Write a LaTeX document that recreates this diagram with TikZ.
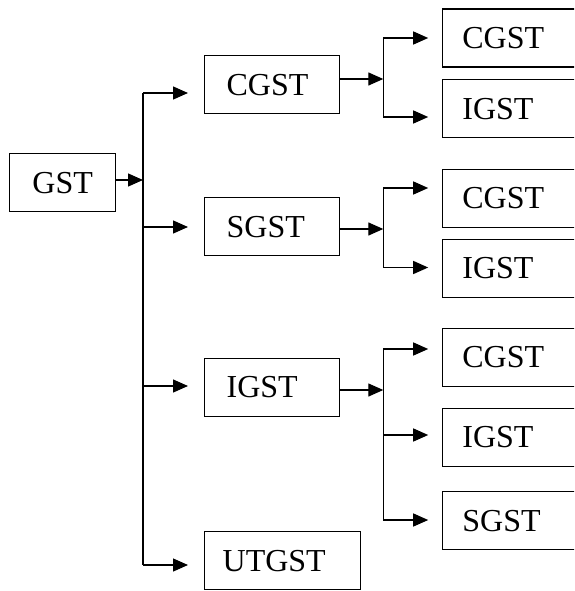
\documentclass[tikz,border=0pt]{standalone}
\usepackage{fontspec}
\setmainfont{Liberation Serif}
\usetikzlibrary{arrows.meta}
\begin{document}
\begin{tikzpicture}[x=1pt,y=-1pt,
  line width=1.3pt,
  box/.style={draw, rectangle, inner ysep=0pt, minimum height=58pt,
    text height=21.5pt, text depth=0pt, font=\fontsize{32}{38}\selectfont},
  rootbox/.style={box, anchor=north west, minimum width=106pt, inner xsep=0pt},
  midbox/.style={box, anchor=north west, inner xsep=22pt, text width=91pt, align=left},
  widebox/.style={box, anchor=north west, inner xsep=18pt, text width=120pt, align=left},
  leafbox/.style={box, anchor=north west, inner xsep=20pt, text width=140pt, align=left},
  arr/.style={-{Triangle[length=15pt,width=13pt]}},
  toleaf/.style={arr, shorten >=13.5pt},
  tomid/.style={arr, shorten >=16pt}]
\useasboundingbox (0,0) rectangle (574,591);
\clip (0,0) rectangle (574,591);

% root
\node[rootbox] (gst) at (9,153) {GST};

% second level
\node[midbox] (cgst) at (204,55) {CGST};
\node[midbox] (sgst) at (204,197) {SGST};
\node[midbox] (igst) at (204,357.5) {IGST};
\node[widebox] (utgst) at (204,531) {UTGST};

% third level
\node[leafbox] (c1) at (441.7,8.5) {CGST};
\node[leafbox] (i1) at (441.7,79) {IGST};
\node[leafbox] (c2) at (441.7,168.5) {CGST};
\node[leafbox] (i2) at (441.7,238.5) {IGST};
\node[leafbox] (c3) at (441.7,327.5) {CGST};
\node[leafbox] (i3) at (441.7,407.5) {IGST};
\node[leafbox] (s3) at (441.7,491) {SGST};

% trunk from the root
\coordinate (j0) at (143,180);
\coordinate (t1) at (143,93);
\coordinate (t2) at (143,227);
\coordinate (t3) at (143,386);
\coordinate (t4) at (143,565);
\draw[arr] (gst.east |- j0) -- (j0);
\draw (t1) -- (t4);
\draw[tomid] (t1) -- (t1 -| cgst.west);
\draw[tomid] (t2) -- (t2 -| sgst.west);
\draw[tomid] (t3) -- (t3 -| igst.west);
\draw[tomid] (t4) -- (t4 -| utgst.west);

% CGST branch
\coordinate (b1) at (383.3,79);
\coordinate (b1a) at (383.3,38);
\coordinate (b1b) at (383.3,117);
\draw[arr] (cgst.east |- b1) -- (b1);
\draw (b1a) -- (b1b);
\draw[toleaf] (b1a) -- (b1a -| c1.west);
\draw[toleaf] (b1b) -- (b1b -| i1.west);

% SGST branch
\coordinate (b2) at (383.3,229);
\coordinate (b2a) at (383.3,188);
\coordinate (b2b) at (383.3,267.5);
\draw[arr] (sgst.east |- b2) -- (b2);
\draw (b2a) -- (b2b);
\draw[toleaf] (b2a) -- (b2a -| c2.west);
\draw[toleaf] (b2b) -- (b2b -| i2.west);

% IGST branch
\coordinate (b3) at (383.3,390);
\coordinate (b3a) at (383.3,349);
\coordinate (b3b) at (383.3,435);
\coordinate (b3c) at (383.3,520);
\draw[arr] (igst.east |- b3) -- (b3);
\draw (b3a) -- (b3c);
\draw[toleaf] (b3a) -- (b3a -| c3.west);
\draw[toleaf] (b3b) -- (b3b -| i3.west);
\draw[toleaf] (b3c) -- (b3c -| s3.west);
\end{tikzpicture}
\end{document}
